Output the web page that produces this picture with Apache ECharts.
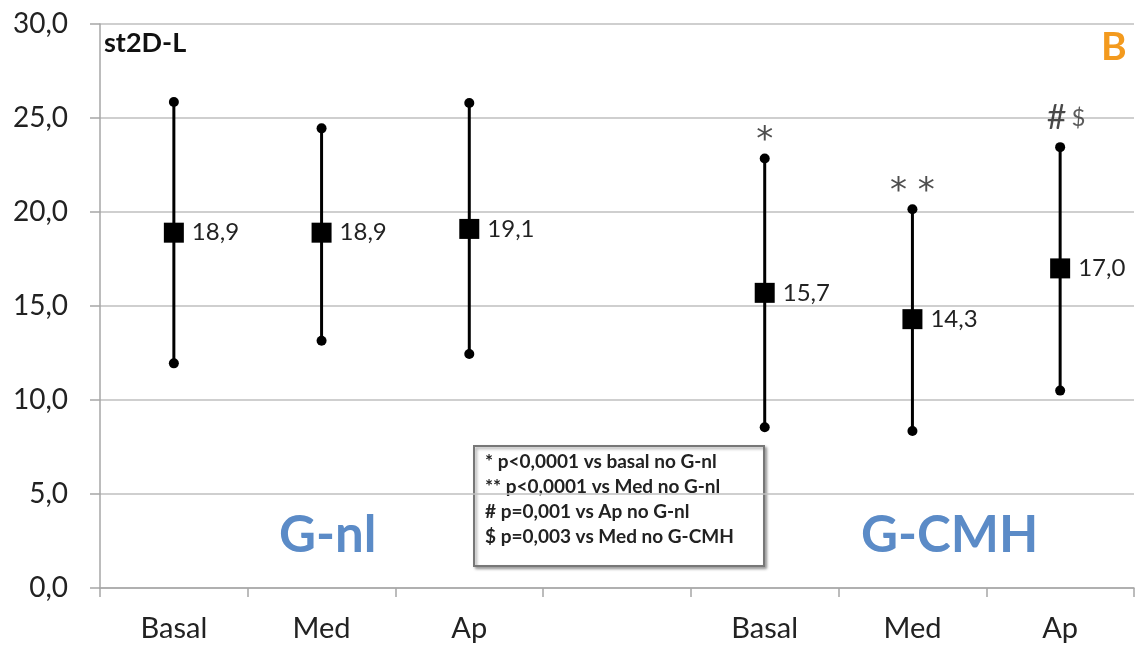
<!DOCTYPE html>
<html>
<head>
<meta charset="utf-8">
<script src="https://cdn.jsdelivr.net/npm/echarts@6/dist/echarts.min.js"></script>
<style>
  html, body { margin: 0; padding: 0; background: #fff; }
  #chart { width: 1135px; height: 645px; }
</style>
</head>
<body>
<div id="chart"></div>
<script>
// categorias do eixo x (a 4a fica vazia para separar os grupos)
const categories = ['Basal', 'Med', 'Ap', '', 'Basal', 'Med', 'Ap'];
const means = [18.9, 18.9, 19.1, null, 15.7, 14.3, 17.0];
const upper = [25.85, 24.45, 25.8, null, 22.85, 20.15, 23.45];
const lower = [11.95, 13.15, 12.45, null, 8.55, 8.35, 10.5];
const marks = ['', '', '', '', '*', '**', '#$'];
const legendLines = [
  '* p<0,0001 vs basal no G-nl',
  '** p<0,0001 vs Med no G-nl',
  '# p=0,001 vs Ap no G-nl',
  '$ p=0,003 vs Med no G-CMH',
];

const FONT = 'Lato, "Open Sans", sans-serif';
const comma = (v) => v.toFixed(1).replace('.', ',');

const chart = echarts.init(document.getElementById('chart'));

const errData = categories.map((c, i) => [i, lower[i], upper[i]]).filter((d) => d[1] != null);
const meanData = categories.map((c, i) => [i, means[i]]).filter((d) => d[1] != null);
const markData = categories.map((c, i) => [i, upper[i], marks[i]]).filter((d) => d[2]);

const option = {
  animation: false,
  grid: { left: 100, right: 1, top: 24, bottom: 57 },
  xAxis: {
    type: 'category',
    data: categories,
    boundaryGap: true,
    axisLine: { lineStyle: { color: '#a6a6a6', width: 1.5 } },
    axisTick: { show: true, length: 9, lineStyle: { color: '#a6a6a6', width: 1.5 } },
    axisLabel: { color: '#222', fontSize: 29, fontFamily: FONT, margin: 26 },
  },
  yAxis: {
    type: 'value',
    min: 0,
    max: 30,
    interval: 5,
    axisLine: { show: true, lineStyle: { color: '#a6a6a6', width: 1.5 } },
    axisTick: { show: true, length: 10, lineStyle: { color: '#a6a6a6', width: 1.5 } },
    splitLine: { lineStyle: { color: '#bfbfbf', width: 1.5 } },
    axisLabel: {
      color: '#222', fontSize: 28, fontFamily: FONT, margin: 32,
      formatter: (v) => comma(v),
    },
  },
  series: [
    {
      // barras de erro
      type: 'custom',
      data: errData,
      renderItem(params, api) {
        const lo = api.coord([api.value(0), api.value(1)]);
        const hi = api.coord([api.value(0), api.value(2)]);
        return {
          type: 'group',
          children: [
            { type: 'line', shape: { x1: hi[0], y1: hi[1], x2: lo[0], y2: lo[1] },
              style: { stroke: '#000', lineWidth: 3 } },
            { type: 'circle', shape: { cx: hi[0], cy: hi[1], r: 5 }, style: { fill: '#000' } },
            { type: 'circle', shape: { cx: lo[0], cy: lo[1], r: 5 }, style: { fill: '#000' } },
          ],
        };
      },
      z: 2,
    },
    {
      // médias
      type: 'scatter',
      data: meanData,
      symbol: 'rect',
      symbolSize: 20,
      itemStyle: { color: '#000', opacity: 1 },
      label: {
        show: true,
        position: 'right',
        distance: 8,
        color: '#222',
        fontSize: 24,
        fontFamily: FONT,
        formatter: (p) => comma(p.value[1]),
      },
      z: 3,
    },
    {
      // marcas de significância
      type: 'scatter',
      data: markData,
      symbolSize: 0,
      label: {
        show: true,
        position: 'top',
        distance: 12,
        fontFamily: FONT,
        formatter: (p) => {
          const m = p.value[2];
          if (m === '#$') return '{h|#}{d|$}';
          return '{a|' + m.split('').join(' ') + '}';
        },
        rich: {
          a: { fontSize: 34, color: '#222', fontFamily: '"DejaVu Sans", sans-serif', padding: [0, 0, -12, 0] },
          h: { fontSize: 34, color: '#1a1a1a', fontFamily: FONT, padding: [0, 0, 0, 12] },
          d: { fontSize: 24, color: '#333', fontFamily: FONT, verticalAlign: 'bottom', padding: [0, 0, 5, 5] },
        },
      },
      z: 4,
    },
  ],
  graphic: [
    { type: 'text', left: 104, top: 30,
      style: { text: 'st2D-L', font: 'bold 27px ' + FONT, fill: '#111' } },
    { type: 'text', left: 1101, top: 28,
      style: { text: 'B', font: 'bold 39px ' + FONT, fill: '#f39a1e' } },
    { type: 'text', left: 279, top: 510,
      style: { text: 'G-nl', font: 'bold 51px ' + FONT, fill: '#5b8bc7' } },
    { type: 'text', left: 861, top: 510,
      style: { text: 'G-CMH', font: 'bold 51px ' + FONT, fill: '#5b8bc7' } },
    { type: 'rect', left: 473, top: 445, shape: { width: 290, height: 120 },
      style: { fill: '#fff', stroke: '#777', lineWidth: 2,
        shadowBlur: 3, shadowOffsetX: 2, shadowOffsetY: 2, shadowColor: 'rgba(0,0,0,0.35)' } },
    { type: 'text', left: 485, top: 450,
      style: { text: legendLines.join('\n'), font: 'bold 19px ' + FONT, fill: '#222', lineHeight: 24.7 } },
  ],
};

chart.setOption(option);
</script>
</body>
</html>
